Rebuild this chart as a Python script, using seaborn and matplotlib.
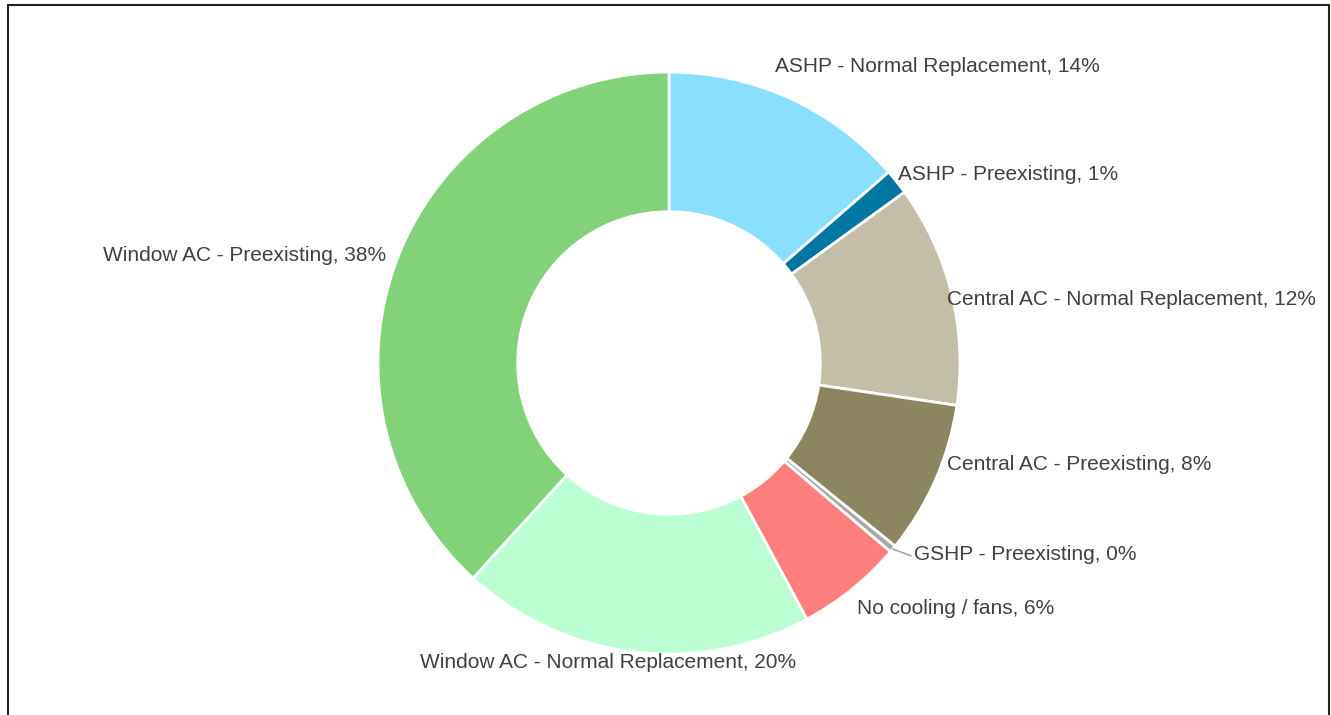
# -*- coding: utf-8 -*-
import numpy as np
import matplotlib
matplotlib.use('Agg')
import matplotlib.pyplot as plt
import seaborn as sns
from matplotlib.lines import Line2D

# ---------------------------------------------------------------------------------------
## Data
categories = ['ASHP - Normal Replacement', 'ASHP - Preexisting',
              'Central AC - Normal Replacement', 'Central AC - Preexisting',
              'GSHP - Preexisting', 'No cooling / fans',
              'Window AC - Normal Replacement', 'Window AC - Preexisting']
shares = [13.6, 1.4, 12.3, 8.5, 0.4, 5.9, 19.6, 38.2]
pct_labels = ['14%', '1%', '12%', '8%', '0%', '6%', '20%', '38%']
colors = ['#8ADFFF', '#0077A3', '#C3BEA8', '#8C8660',
          '#A6A6A6', '#FF7F7F', '#BBFFD2', '#82D27A']

# label anchor points (pie radius = 1) and alignment
label_pos = [(0.364, 1.02), (0.787, 0.647), (0.955, 0.218), (0.955, -0.349),
             (0.842, -0.658), (0.646, -0.844), (-0.210, -1.03), (-0.973, 0.369)]
label_ha = ['left', 'left', 'left', 'left', 'left', 'left', 'center', 'right']

# ---------------------------------------------------------------------------------------
sns.set_theme(style='white')
plt.rcParams['font.family'] = ['Liberation Sans', 'DejaVu Sans']

fig = plt.figure(figsize=(13.31, 7.15), dpi=100)
ax = fig.add_axes([0, 0, 1, 1])

wedges, _ = ax.pie(shares, colors=colors, startangle=90, counterclock=False,
                   radius=1.0,
                   wedgeprops=dict(width=0.48, edgecolor='white', linewidth=2))

# labels
for cat, pct, (lx, ly), ha in zip(categories, pct_labels, label_pos, label_ha):
    ax.text(lx, ly, f'{cat}, {pct}', ha=ha, va='center', fontsize=15, color='#404040')

# leader line for the tiny GSHP slice
w = wedges[4]
mid = np.deg2rad((w.theta1 + w.theta2) / 2)
x0, y0 = np.cos(mid) * 1.0, np.sin(mid) * 1.0
ax.plot([x0, label_pos[4][0] - 0.01], [y0, label_pos[4][1] - 0.005],
        color='#A6A6A6', lw=1.2)

ax.set_xlim(-669 / 291, (1331 - 669) / 291)
ax.set_ylim(-352 / 291, (715 - 352) / 291)
ax.set_aspect('auto')
ax.axis('off')

# frame around the chart (bottom edge falls outside the picture)
W, H = 1331, 715
for xs, ys in [([8 / W, 8 / W], [0, 1 - 5 / H]),
               ([8 / W, 1329 / W], [1 - 5 / H, 1 - 5 / H]),
               ([1329 / W, 1329 / W], [1 - 5 / H, 0])]:
    fig.add_artist(Line2D(xs, ys, color='#222222', lw=1.5, transform=fig.transFigure))

fig.savefig('out.png', dpi=100, facecolor='white')
